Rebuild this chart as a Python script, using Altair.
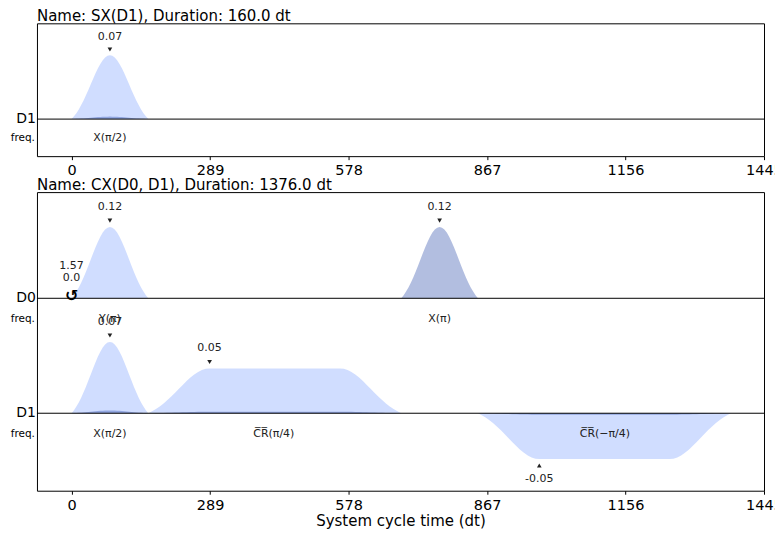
import altair as alt
import pandas as pd

FONT = "DejaVu Sans"
RE_COLOR = "#648fff"
IM_COLOR = "#002999"

# ---------------- data ----------------
x_ticks = [0, 289, 578, 867, 1156, 1445]
x_domain = [-72.25, 1445]

panel_titles = ["Name: SX(D1), Duration: 160.0 dt",
                "Name: CX(D0, D1), Duration: 1376.0 dt"]
panel_heights = [133, 299]
panel_ydomains = [[-0.58, 1.5], [-2.70, 1.49]]

channel_panel = [0, 1, 1]
channel_name = ["D1", "D0", "D1"]
channel_offset = [0.0, 0.0, -1.613]
channel_max = [0.0715, 0.12, 0.0715]

# normalised pulse edge envelope, sampled at 1/16 steps of the rise time
envelope = [0.0, 0.0429, 0.0936, 0.1523, 0.2190, 0.2929, 0.3730, 0.4577, 0.5450,
            0.6322, 0.7165, 0.7948, 0.8641, 0.9215, 0.9644, 0.9910, 1.0]

pulse_channel = [0, 1, 1, 2, 2, 2]
pulse_start = [0, 0, 688, 0, 160, 848]
pulse_rise = [80, 80, 80, 80, 128, 128]
pulse_flat = [0, 0, 0, 0, 272, 272]
pulse_re = [0.0715, 0.12, 0.0, 0.0715, 0.045, -0.046]
pulse_im = [0.0028, 0.0, 0.12, 0.0028, 0.0015, -0.0015]
pulse_label = ["X(π/2)", "Y(π)", "X(π)", "X(π/2)", "C\u0305R\u0305(π/4)", "C\u0305R\u0305(\u2212π/4)"]
pulse_label_t = [80, 80, 768, 80, 422, 1113]
ann_text = ["0.07", "0.12", "0.12", "0.07", "0.05", "-0.05"]
ann_t = [80, 80, 768, 80, 288, 976]
ann_amp = [0.0715, 0.12, 0.12, 0.0715, 0.045, -0.046]

fc_channel = [1]
fc_t = [0]
fc_phase = ["1.57"]
fc_freq = ["0.0"]

LABEL_GAP = 0.29   # label distance below the channel baseline (normalised units)
TRI_GAP = 0.09
ANN_GAP = 0.28

# ---------------- tables ----------------
area_rows = []
for k in range(len(pulse_start)):
    ci = pulse_channel[k]
    n = len(envelope) - 1
    for part, amp in (("re", pulse_re[k]), ("im", pulse_im[k])):
        if amp == 0:
            continue
        pts = []
        for i, e in enumerate(envelope):
            pts.append((pulse_start[k] + pulse_rise[k] * i / n, e))
        for i, e in enumerate(reversed(envelope)):
            pts.append((pulse_start[k] + pulse_rise[k] + pulse_flat[k] + pulse_rise[k] * i / n, e))
        for t, e in pts:
            area_rows.append(dict(panel=channel_panel[ci], series=f"{k}-{part}", part=part, t=t,
                                  y=channel_offset[ci] + amp * e / channel_max[ci],
                                  base=channel_offset[ci]))
areas = pd.DataFrame(area_rows)

chan_rows = []
for ci in range(len(channel_name)):
    chan_rows.append(dict(panel=channel_panel[ci], name=channel_name[ci], t=x_domain[0],
                          base=channel_offset[ci], fy=channel_offset[ci] - LABEL_GAP))
chans = pd.DataFrame(chan_rows)

lab_rows = []
for k in range(len(pulse_start)):
    ci = pulse_channel[k]
    peak = channel_offset[ci] + ann_amp[k] / channel_max[ci]
    sgn = 1 if ann_amp[k] >= 0 else -1
    lab_rows.append(dict(panel=channel_panel[ci], label=pulse_label[k], lt=pulse_label_t[k],
                         ly=channel_offset[ci] - LABEL_GAP,
                         ann=ann_text[k], at=ann_t[k],
                         ty=peak + sgn * TRI_GAP, ay=peak + sgn * ANN_GAP,
                         shape="triangle-down" if sgn > 0 else "triangle-up"))
labs = pd.DataFrame(lab_rows)

fc_rows = []
for j in range(len(fc_t)):
    ci = fc_channel[j]
    off = channel_offset[ci]
    fc_rows.append(dict(panel=channel_panel[ci], t=fc_t[j], sym="↺", text=fc_freq[j], y=off + 0.03, yt=off + 0.28))
    fc_rows.append(dict(panel=channel_panel[ci], t=fc_t[j], sym="", text=fc_phase[j], y=off + 0.03, yt=off + 0.46))
fcs = pd.DataFrame(fc_rows)


def panel(p, show_title_x):
    ys = alt.Scale(domain=panel_ydomains[p], nice=False, zero=False)
    xs = alt.Scale(domain=x_domain, nice=False, zero=False)
    ax = alt.Axis(values=x_ticks, format="d", labelFlush=False, labelOverlap=False,
                  labelFontSize=14.5, labelColor="black", labelPadding=4,
                  tickSize=3.5, tickColor="black", tickWidth=1, domain=False, grid=False,
                  title="System cycle time (dt)" if show_title_x else None,
                  titleFontSize=15, titleFontWeight="normal", titleColor="black", titlePadding=2)

    def X(field):
        return alt.X(field, type="quantitative", scale=xs, axis=ax)

    def Y(field):
        return alt.Y(field, type="quantitative", scale=ys, axis=None)

    a = areas[areas.panel == p]
    re_l = alt.Chart(a[a.part == "re"]).mark_area(color=RE_COLOR, opacity=0.3, strokeWidth=0).encode(
        x=X("t"), y=Y("y"), y2="base", detail="series:N")
    im_l = alt.Chart(a[a.part == "im"]).mark_area(color=IM_COLOR, opacity=0.3, strokeWidth=0).encode(
        x=X("t"), y=Y("y"), y2="base", detail="series:N")

    c = chans[chans.panel == p]
    rule = alt.Chart(c).mark_rule(color="black", strokeWidth=1).encode(y=Y("base"))
    cname = alt.Chart(c).mark_text(align="right", baseline="middle", fontSize=14, dx=-1, color="black").encode(
        x=X("t"), y=Y("base"), text="name:N")
    freq = alt.Chart(c).mark_text(align="right", baseline="middle", fontSize=10.5, dx=-2, color="black").encode(
        x=X("t"), y=Y("fy"), text=alt.value("freq."))

    l = labs[labs.panel == p]
    plab = alt.Chart(l).mark_text(align="center", baseline="middle", fontSize=11, color="#222").encode(
        x=X("lt"), y=Y("ly"), text="label:N")
    tri = alt.Chart(l).mark_point(filled=True, size=22, color="#222", opacity=1).encode(
        x=X("at"), y=Y("ty"), shape=alt.Shape("shape:N", scale=None))
    ann = alt.Chart(l).mark_text(align="center", baseline="middle", fontSize=11, color="#222").encode(
        x=X("at"), y=Y("ay"), text="ann:N")

    layers = [re_l, im_l, rule, cname, freq, plab, tri, ann]
    f = fcs[fcs.panel == p]
    if len(f):
        sym = alt.Chart(f[f.sym != ""]).mark_text(align="center", baseline="middle", fontSize=16,
                                                  fontWeight="bold", color="black").encode(
            x=X("t"), y=Y("y"), text="sym:N")
        ftx = alt.Chart(f).mark_text(align="center", baseline="middle", fontSize=11, color="#222").encode(
            x=X("t"), y=Y("yt"), text="text:N")
        layers += [sym, ftx]

    return alt.layer(*layers).properties(
        width=728, height=panel_heights[p],
        title=alt.Title(panel_titles[p], anchor="start", frame="group", fontSize=15,
                        fontWeight="normal", color="black", offset=-1, font=FONT))


chart = alt.vconcat(panel(0, False), panel(1, True), spacing=36, bounds="flush").properties(
    padding={"left": 2, "top": 0, "right": -8, "bottom": 0}
).configure(font=FONT).configure_view(stroke="black", strokeWidth=1)

chart.save("out.html", embed_options={"renderer": "svg", "actions": False})
